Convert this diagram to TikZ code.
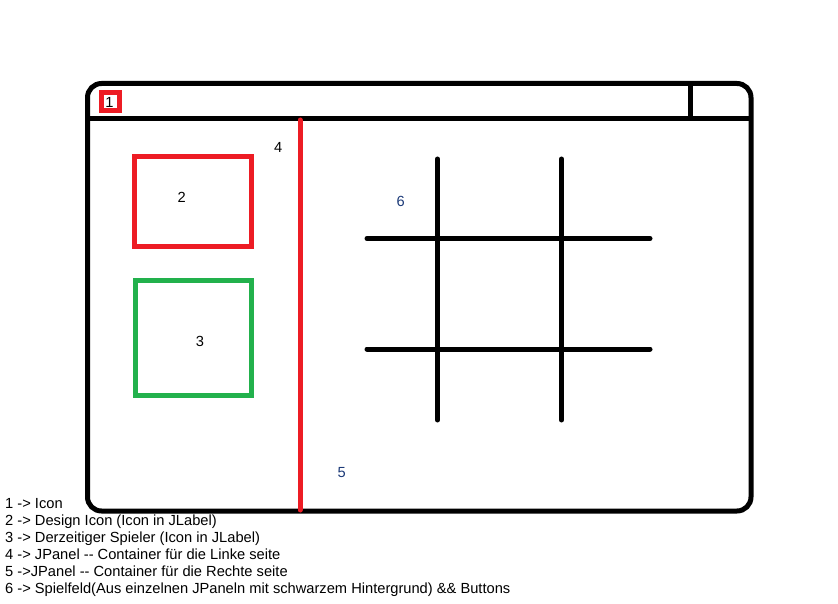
\documentclass[tikz,border=0pt]{standalone}
\usepackage{fontspec}
\setmainfont{Liberation Sans}
\usepackage{tikz}
\usetikzlibrary{positioning}
\definecolor{PaintRed}{HTML}{ED1C24}
\definecolor{PaintGreen}{HTML}{22B14C}
\definecolor{LabelBlue}{HTML}{1C3A78}
\tikzset{
  frameline/.style={line width=5pt, black, line cap=round},
  redline/.style={line width=5pt, PaintRed, line cap=round},
  numlabel/.style={font=\fontsize{14.67}{17}\selectfont, inner sep=0pt},
  legendline/.style={font=\fontsize{14.67}{17}\selectfont, inner sep=0pt, anchor=base west}
}

\begin{document}
\begin{tikzpicture}[x=1pt,y=-1pt]
  \useasboundingbox (0,0) rectangle (838,604);
  % window frame and title bar
  \draw[frameline, rounded corners=14pt] (87.5,83.5) rectangle (751,511);
  \coordinate (barL) at (87.5,118.5);
  \coordinate (barR) at (751,118.5);
  \draw[frameline, line cap=butt] (barL) -- (barR);
  \coordinate (btnT) at (690,83.5);
  \coordinate (btnB) at (690,118.5);
  \draw[frameline, line cap=butt] (btnT) -- (btnB);
  % icon
  \draw[redline, line cap=butt] (101,92.5) rectangle (119,111);
  \node[numlabel] (one) at (109.5,102.5) {1};
  % split between left and right panel
  \coordinate (splitT) at (300,120);
  \coordinate (splitB) at (300,510);
  \draw[redline] (splitT) -- (splitB);
  \node[numlabel] (four) at (278.3,147.7) {4};
  \node[numlabel, LabelBlue] (five) at (341.7,472.3) {5};
  % left panel icons
  \draw[redline, line cap=butt] (134.5,156.5) rectangle (251.5,246.5);
  \node[numlabel] (two) at (181.7,197.3) {2};
  \draw[line width=5pt, PaintGreen] (135,280) rectangle (251.7,395.3);
  \node[numlabel] (three) at (200,341.7) {3};
  % game board
  \foreach \gx in {437.5,561.5}
    \draw[frameline] (\gx,159) -- (\gx,420);
  \foreach \gy in {238.5,349}
    \draw[frameline] (367,\gy) -- (650,\gy);
  \node[numlabel, LabelBlue] (six) at (400.7,201.7) {6};
  % legend
  \foreach \txt [count=\i from 0] in {%
      {1 -> Icon},
      {2 -> Design Icon (Icon in JLabel)},
      {3 -> Derzeitiger Spieler (Icon in JLabel)},
      {4 -> JPanel -{}- Container für die Linke seite},
      {5 ->JPanel -{}- Container für die Rechte seite},
      {6 -> Spielfeld(Aus einzelnen JPaneln mit schwarzem Hintergrund) \&\& Buttons}}
    \node[legendline] (leg\i) at (5,508.5+17*\i) {\txt};
\end{tikzpicture}
\end{document}
